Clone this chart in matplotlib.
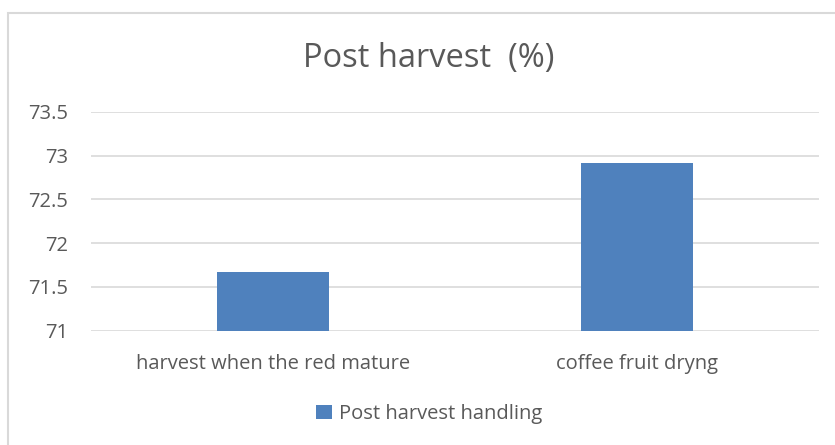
import matplotlib.pyplot as plt
from matplotlib.patches import Rectangle

categories = ["harvest when the red mature", "coffee fruit dryng"]
values = [71.67, 72.92]
series_name = "Post harvest handling"
y_ticks = [71, 71.5, 72, 72.5, 73, 73.5]
y_labels = ["71", "71.5", "72", "72.5", "73", "73.5"]

text_col = "#595959"
bar_col = "#4F81BD"
grid_col = "#D9D9D9"

plt.rcParams['font.family'] = ['Open Sans', 'DejaVu Sans']

fig = plt.figure(figsize=(8.35, 4.45), dpi=100)
fig.patches.append(Rectangle((8 / 835, -0.1), 1.2, 1 - 13 / 445 + 0.1,
                             transform=fig.transFigure, fill=False,
                             edgecolor=grid_col, linewidth=1.5))

ax = fig.add_axes([91 / 835, 1 - 330.7 / 445, (819 - 91) / 835, (330.7 - 111.7) / 445])
x = range(len(categories))
ax.bar(x, [v - 71 for v in values], bottom=71, width=0.31, color=bar_col,
       label=series_name, zorder=3)
ax.set_xlim(-0.5, 1.5)
ax.set_ylim(71, 73.5)
ax.set_yticks(y_ticks)
ax.set_yticklabels(y_labels)
ax.set_xticks(list(x))
ax.set_xticklabels(categories)
ax.tick_params(axis='both', length=0, colors=text_col, labelsize=14.5)
ax.tick_params(axis='y', pad=16.5)
ax.tick_params(axis='x', pad=17)
ax.grid(axis='y', color=grid_col, linewidth=1.2, zorder=0)
for s in ax.spines.values():
    s.set_visible(False)

fig.text(0.513, 1 - 59 / 445, "Post harvest  (%)", ha='center', va='center',
         fontsize=23.5, color=text_col)

leg = fig.legend(loc='center', bbox_to_anchor=(0.514, 1 - 414 / 445), frameon=False,
                 fontsize=14.5, handlelength=0.75, handleheight=0.75, handletextpad=0.35)
for t in leg.get_texts():
    t.set_color(text_col)

fig.savefig("out.png", dpi=100)
